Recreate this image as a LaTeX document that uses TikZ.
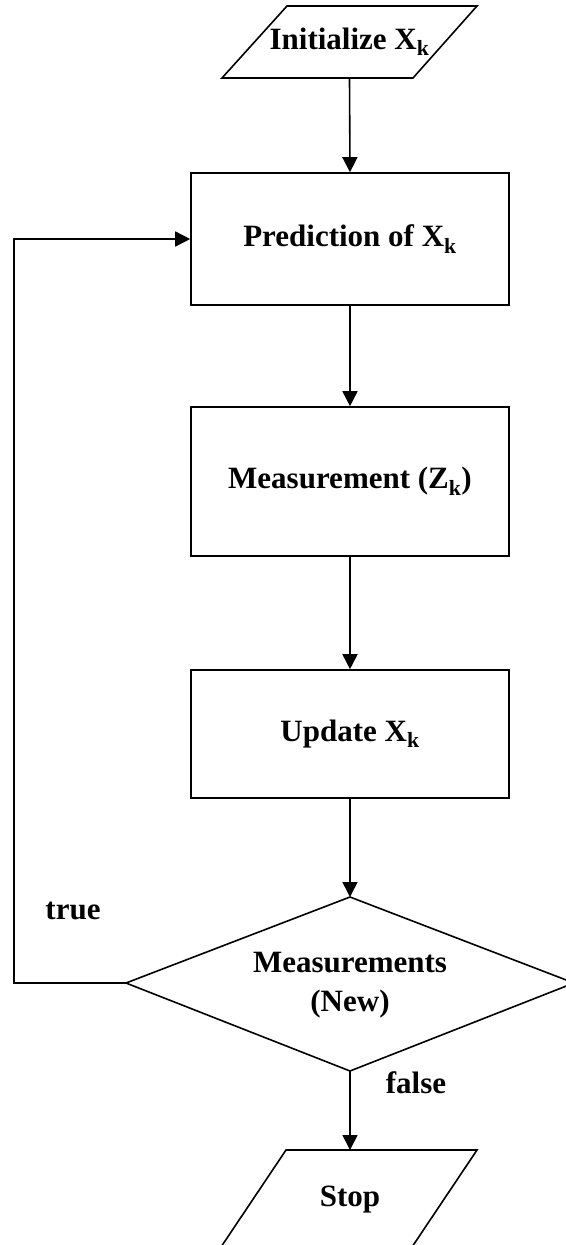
\documentclass[tikz,border=0pt]{standalone}
\usepackage{fontspec}
\setmainfont{Liberation Serif}
\usetikzlibrary{arrows.meta}
\tikzset{
  proc/.style={draw, rectangle, minimum width=318pt, inner sep=0pt, font=\bfseries\fontsize{31}{36}\selectfont},
  lbl/.style={inner sep=0pt, font=\bfseries\fontsize{31}{36}\selectfont},
  conn/.style={-{Triangle[length=15pt,width=15pt]}},
  shp/.style={line join=miter}
}
\begin{document}
\begin{tikzpicture}[x=1pt,y=-1pt,line width=1.6pt]
\useasboundingbox (0,0) rectangle (565,1245);
% Initialize parallelogram
\draw[shp] (287,6) -- (477,6) -- (413,78) -- (222,78) -- cycle;
\node[lbl, minimum width=191pt, minimum height=72pt] (init) at (349.5,42) {Initialize X\textsubscript{k}};
% process boxes
\node[proc, minimum height=132pt] (pred) at (350,239) {Prediction of X\textsubscript{k}};
\node[proc, minimum height=149pt] (meas) at (350,481.5) {Measurement (Z\textsubscript{k})};
\node[proc, minimum height=128pt] (upd) at (350,734) {Update X\textsubscript{k}};
% decision diamond
\coordinate (dtop) at (350,897);
\coordinate (dleft) at (126,983);
\coordinate (dright) at (574,983);
\coordinate (dbot) at (350,1071);
\draw[shp] (dtop) -- (dright) -- (dbot) -- (dleft) -- cycle;
\node[lbl, align=center, font=\bfseries\fontsize{31}{39}\selectfont] (dec) at (350,985) {Measurements\\(New)};
% Stop parallelogram
\draw[shp] (286,1150) -- (477,1150) -- (410,1250) -- (219,1250) -- cycle;
\coordinate (stoptop) at (350,1150);
\node[lbl] (stop) at (350,1200) {Stop};
% labels
\node[lbl] (ltrue) at (73,911) {true};
\node[lbl] (lfalse) at (416,1083) {false};
% connectors
\coordinate (lc) at (14,0);
\draw[conn] (init.south) -- (pred.north);
\draw[conn] (pred.south) -- (meas.north);
\draw[conn] (meas.south) -- (upd.north);
\draw[conn] (upd.south) -- (dtop);
\draw[conn] (dbot) -- (stoptop);
\draw[conn] (dleft) -- (dleft -| lc) |- (pred.west);
\end{tikzpicture}
\end{document}
